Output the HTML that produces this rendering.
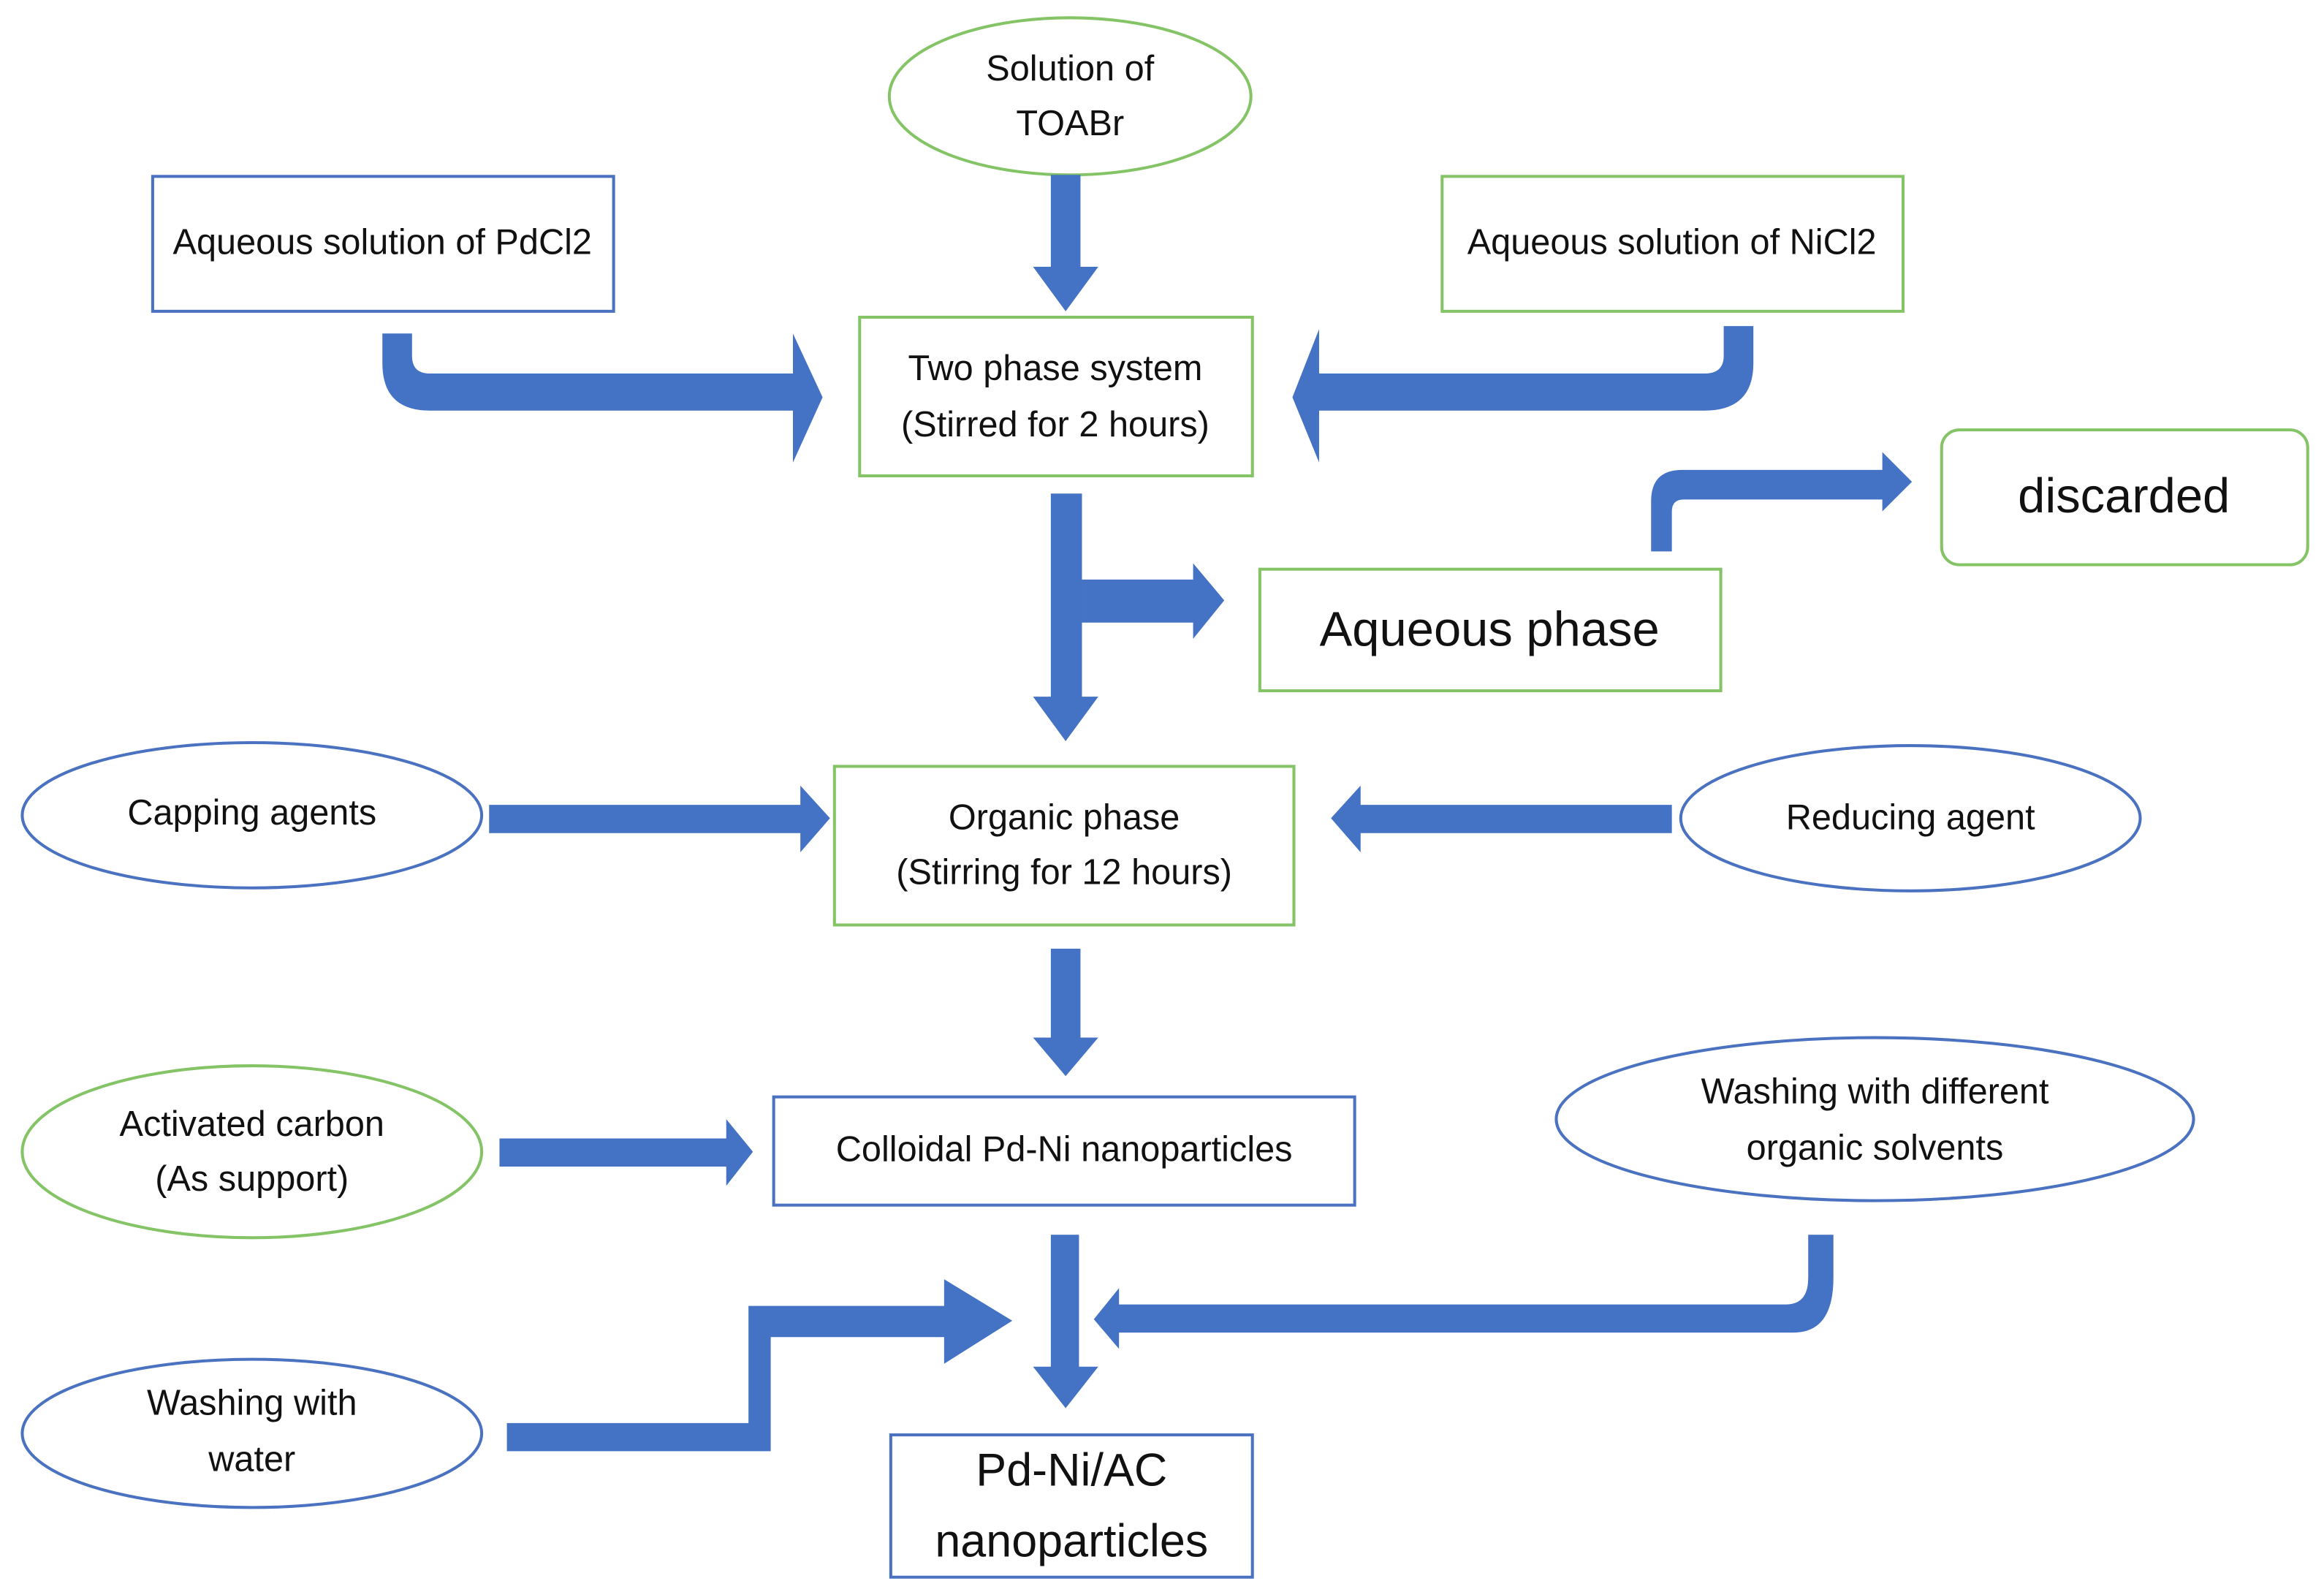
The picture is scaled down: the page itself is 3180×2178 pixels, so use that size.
<!DOCTYPE html>
<html><head><meta charset="utf-8"><style>
html,body{margin:0;padding:0;background:#fff;}
svg{display:block;}
text{font-family:"Liberation Sans Narrow","Liberation Sans",sans-serif;fill:#111;text-anchor:middle;dominant-baseline:middle;}
</style></head><body>
<svg width="3180" height="2178" viewBox="0 0 1568 1074" preserveAspectRatio="none" xmlns="http://www.w3.org/2000/svg">
<g fill="none" stroke-width="2">
<ellipse cx="722" cy="65" rx="122" ry="53" stroke="#84c466"/>
<rect x="103" y="119" width="311" height="91" stroke="#4a72c0"/>
<rect x="973" y="119" width="311" height="91" stroke="#84c466"/>
<rect x="580" y="214" width="265" height="107" stroke="#84c466"/>
<rect x="850" y="384" width="311" height="82" stroke="#84c466"/>
<rect x="1310" y="290" width="247" height="91" rx="12" stroke="#84c466"/>
<ellipse cx="170" cy="550" rx="155" ry="49" stroke="#4a72c0"/>
<rect x="563" y="517" width="310" height="107" stroke="#84c466"/>
<ellipse cx="1289" cy="552" rx="155" ry="49" stroke="#4a72c0"/>
<ellipse cx="170" cy="777" rx="155" ry="58" stroke="#84c466"/>
<rect x="522" y="740" width="392" height="73" stroke="#4a72c0"/>
<ellipse cx="1265" cy="755" rx="215" ry="55" stroke="#4a72c0"/>
<ellipse cx="170" cy="967" rx="155" ry="50" stroke="#4a72c0"/>
<rect x="601" y="968" width="244" height="96" stroke="#4a72c0"/>
</g>
<g fill="#4472c4">
<polygon points="709,118 729,118 729,180 741,180 719,210 697,180 709,180"/>
<path d="M258,225 L278,225 L278,240 Q278,252 290,252 L535,252 L535,225 L555,268 L535,312 L535,277 L290,277 Q258,277 258,245 Z"/>
<path d="M1163,220 L1183,220 L1183,245 Q1183,277 1150,277 L890,277 L890,312 L872,268 L890,222 L890,252 L1150,252 Q1163,252 1163,240 Z"/>
<polygon points="709,333 730,333 730,470 741,470 719,500 697,470 709,470"/>
<polygon points="730,391 805,391 805,380 826,405 805,431 805,420 730,420"/>
<path d="M1114,372 L1128,372 L1128,345 Q1128,337 1136,337 L1270,337 L1270,345 L1290,325 L1270,305 L1270,317 L1135,317 Q1114,317 1114,338 Z"/>
<polygon points="330,543 540,543 540,530 560,552 540,575 540,562 330,562"/>
<polygon points="1128,543 918,543 918,530 898,552 918,575 918,562 1128,562"/>
<polygon points="709,640 729,640 729,700 741,700 719,726 697,700 709,700"/>
<polygon points="337,768 490,768 490,755 508,777 490,800 490,787 337,787"/>
<polygon points="709,833 728,833 728,922 741,922 719,950 697,922 709,922"/>
<polygon points="342,960 505,960 505,881 637,881 637,863 683,891 637,920 637,902 520,902 520,979 342,979"/>
<path d="M1220,833 L1237,833 L1237,862 Q1237,899 1210,899 L755,899 L755,910 L738,890 L755,869 L755,880 L1205,880 Q1220,880 1220,862 Z"/>
</g>
<text x="722" y="48" font-size="24">Solution of</text>
<text x="722" y="85" font-size="24">TOABr</text>
<text x="258" y="165" font-size="24">Aqueous solution of PdCl2</text>
<text x="1128" y="165" font-size="24">Aqueous solution of NiCl2</text>
<text x="712" y="250" font-size="24">Two phase system</text>
<text x="712" y="288" font-size="24">(Stirred for 2 hours)</text>
<text x="1005" y="427" font-size="33">Aqueous phase</text>
<text x="1433" y="337" font-size="33">discarded</text>
<text x="170" y="550" font-size="24">Capping agents</text>
<text x="718" y="553" font-size="24">Organic  phase</text>
<text x="718" y="590" font-size="24">(Stirring for 12 hours)</text>
<text x="1289" y="553" font-size="24">Reducing agent</text>
<text x="170" y="760" font-size="24">Activated carbon</text>
<text x="170" y="797" font-size="24">(As support)</text>
<text x="718" y="777" font-size="24">Colloidal Pd-Ni nanoparticles</text>
<text x="1265" y="738" font-size="24">Washing with different</text>
<text x="1265" y="776" font-size="24">organic  solvents</text>
<text x="170" y="948" font-size="24">Washing with</text>
<text x="170" y="986" font-size="24">water</text>
<text x="723" y="994" font-size="31">Pd-Ni/AC</text>
<text x="723" y="1042" font-size="31">nanoparticles</text>
</svg>
</body></html>
